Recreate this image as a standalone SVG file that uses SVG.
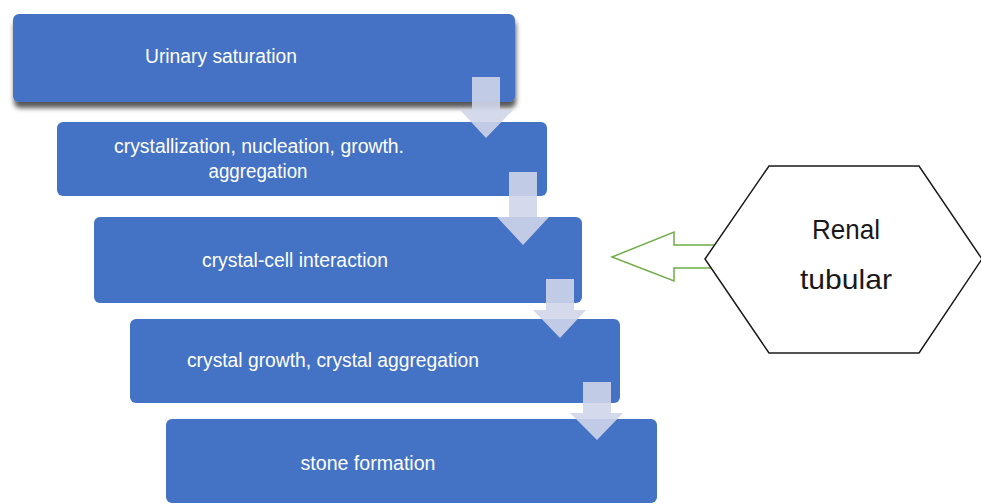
<svg xmlns="http://www.w3.org/2000/svg" width="981" height="504" viewBox="0 0 981 504">
<defs>
<style>
.box{fill:#4472c4;}
.lbl{fill:#ffffff;font-family:"Liberation Sans",Arial,sans-serif;font-size:20px;text-anchor:middle;}
.arr{fill:#cfd5ea;fill-opacity:0.9;}
.hex{fill:#ffffff;stroke:#1a1a1a;stroke-width:1.5;}
.hlbl{fill:#1a1a1a;font-family:"Liberation Sans",Arial,sans-serif;font-size:28px;text-anchor:middle;}
.green{fill:#ffffff;stroke:#70ad47;stroke-width:1.5;stroke-linejoin:miter;}
</style>
<filter id="sh" x="-10%" y="-20%" width="120%" height="150%">
<feDropShadow dx="1" dy="6" stdDeviation="2.5" flood-color="#000000" flood-opacity="0.65"/>
</filter>
</defs>
<rect width="981" height="504" fill="#ffffff"/>

<g id="n1">
<rect class="box" x="13" y="14" width="502" height="88" rx="6" filter="url(#sh)"/>
<text class="lbl" x="221" y="63" textLength="152" lengthAdjust="spacingAndGlyphs">Urinary saturation</text>
</g>
<g id="n2">
<rect class="box" x="57" y="122" width="490" height="74" rx="6"/>
<text class="lbl" x="259" y="153" textLength="290" lengthAdjust="spacingAndGlyphs">crystallization, nucleation, growth.</text>
<text class="lbl" x="258" y="178" textLength="99" lengthAdjust="spacingAndGlyphs">aggregation</text>
</g>
<g id="n3">
<rect class="box" x="94" y="217" width="488" height="86" rx="6"/>
<text class="lbl" x="295" y="267" textLength="186" lengthAdjust="spacingAndGlyphs">crystal-cell interaction</text>
</g>
<g id="n4">
<rect class="box" x="130" y="319" width="490" height="84" rx="6"/>
<text class="lbl" x="333" y="367" textLength="292" lengthAdjust="spacingAndGlyphs">crystal growth, crystal aggregation</text>
</g>
<g id="n5">
<rect class="box" x="166" y="419" width="491" height="84" rx="6"/>
<text class="lbl" x="368" y="470" textLength="135" lengthAdjust="spacingAndGlyphs">stone formation</text>
</g>

<g id="connectors">
<polygon class="arr" points="472,77 500,77 500,110 513,110 486,138 460,110 472,110"/>
<polygon class="arr" points="509,172 537,172 537,217 549,217 523,245 497,217 509,217"/>
<polygon class="arr" points="546,279 574,279 574,310 586,310 560,338 533,310 546,310"/>
<polygon class="arr" points="583,382 611,382 611,413 623,413 597,440 570,413 583,413"/>
<polygon class="green" points="612,257 674,232 674,245 730,245 730,268 674,268 674,281"/>
</g>

<g id="renal">
<polygon class="hex" points="705,259 769,166 919,166 982,259 919,353 769,353"/>
<text class="hlbl" x="846" y="239" textLength="68" lengthAdjust="spacingAndGlyphs">Renal</text>
<text class="hlbl" x="846" y="289" textLength="92" lengthAdjust="spacingAndGlyphs">tubular</text>
</g>
</svg>
